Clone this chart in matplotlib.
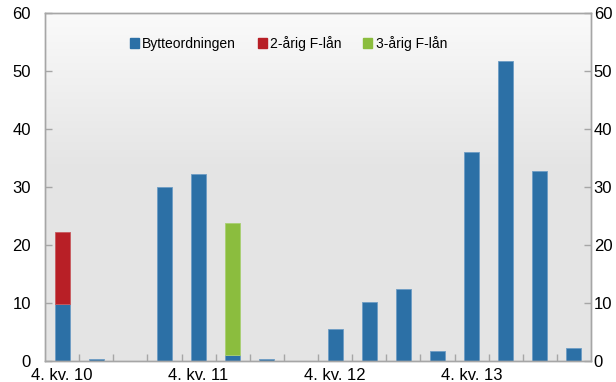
import numpy as np
import matplotlib.pyplot as plt
from matplotlib.patches import Patch

plt.rcParams['font.family'] = ['Liberation Sans', 'DejaVu Sans']

kvartaler = ['4. kv. 10', '1. kv. 11', '2. kv. 11', '3. kv. 11',
             '4. kv. 11', '1. kv. 12', '2. kv. 12', '3. kv. 12',
             '4. kv. 12', '1. kv. 13', '2. kv. 13', '3. kv. 13',
             '4. kv. 13', '1. kv. 14', '2. kv. 14', '3. kv. 14']
bytteordningen = [9.8, 0.3, 0, 30.0, 32.3, 1.0, 0.4, 0, 5.6, 10.2, 12.4, 1.8, 36.1, 51.7, 32.8, 2.2]
f_laan_2aar = [12.5, 0, 0, 0, 0, 0, 0, 0, 0, 0, 0, 0, 0, 0, 0, 0]
f_laan_3aar = [0, 0, 0, 0, 0, 22.8, 0, 0, 0, 0, 0, 0, 0, 0, 0, 0]
vis_etikett = [0, 4, 8, 12]

blaa = '#2c70a6'
roed = '#b81f26'
groenn = '#8bbd3e'
graa = '#a6a6a6'

fig = plt.figure(figsize=(6.16, 3.82), dpi=100)
ax = fig.add_axes([45 / 616, 21 / 382, 546 / 616, 348 / 382])

x = np.arange(len(kvartaler))
b1 = np.array(bytteordningen)
b2 = np.array(f_laan_2aar)
b3 = np.array(f_laan_3aar)

# bakgrunn: hvit overgang øverst, lysegrå nedover
grad = np.clip(np.linspace(0, 1, 256) / 0.45, 0, 1)
farger = np.empty((256, 1, 3))
topp = np.array([0.98, 0.98, 0.98])
bunn = np.array([0.895, 0.895, 0.895])
for i, g in enumerate(grad):
    farger[i, 0] = topp + (bunn - topp) * g
ax.imshow(farger, extent=[0, 1, 0, 1], transform=ax.transAxes,
          aspect='auto', zorder=0, origin='upper')


def stolper(verdier, bunnlinje, farge, kant):
    # tegner bare stolper med verdi, så nullverdier ikke gir kantlinjer
    m = verdier > 0
    ax.bar(x[m], verdier[m], 0.44, bottom=bunnlinje[m], color=farge,
           edgecolor=kant, linewidth=0.6, zorder=2)


stolper(b1, np.zeros_like(b1), blaa, '#6d9cc4')
stolper(b2, b1, roed, '#c85a5e')
stolper(b3, b1 + b2, groenn, '#a8cf72')

ax.set_xlim(-0.5, len(kvartaler) - 0.5)
ax.set_ylim(0, 60)
ax.set_yticks(range(0, 61, 10))

ax.set_xticks(vis_etikett)
ax.set_xticklabels([kvartaler[i] for i in vis_etikett], fontsize=12)
ax.set_xticks(np.arange(0.5, len(kvartaler) - 1), minor=True)
ax.tick_params(axis='x', which='major', length=0, pad=5)
ax.tick_params(axis='x', which='minor', direction='in', length=5, color=graa, width=1)
ax.tick_params(axis='y', direction='in', length=5, color=graa, width=1,
               labelsize=12, pad=10)

# høyre akse med samme skala
ax2 = ax.twinx()
ax2.set_ylim(0, 60)
ax2.set_yticks(range(0, 61, 10))
ax2.tick_params(axis='y', direction='in', length=5, color=graa, width=1,
                labelsize=12, pad=2)

for a in (ax, ax2):
    for s in a.spines.values():
        s.set_color(graa)
        s.set_linewidth(1)

handles = [Patch(color=blaa, label='Bytteordningen'),
           Patch(color=roed, label='2-årig F-lån'),
           Patch(color=groenn, label='3-årig F-lån')]
ax.legend(handles=handles, loc='upper center', bbox_to_anchor=(0.446, 0.97), ncol=3,
          frameon=False, fontsize=10, handlelength=0.65, handleheight=0.65,
          handletextpad=0.25, columnspacing=1.55)

fig.savefig('out.png', dpi=100)
